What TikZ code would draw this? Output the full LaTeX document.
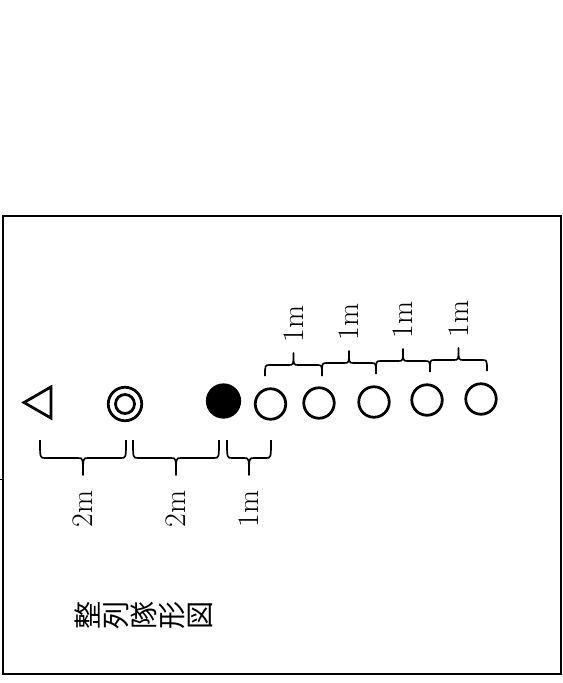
\documentclass[tikz,border=0pt]{standalone}
\usepackage{fontspec}
\newfontfamily\jpfont{Noto Sans CJK JP}
\usetikzlibrary{shapes.geometric}

\begin{document}
\begin{tikzpicture}[
  x=0.02cm, y=-0.02cm,
  frame/.style={draw, line width=0.045cm},
  sym/.style={draw, line width=0.055cm, inner sep=0pt},
  member/.style={sym, circle, minimum size=0.61cm},
  leader/.style={sym, circle, fill=black, minimum size=0.65cm},
  dimbrace/.style={line width=0.95pt, line join=round},
  dimlabel/.style={font=\fontsize{17}{20}\selectfont, rotate=90, inner sep=0pt},
  kanji/.style={font=\jpfont\fontsize{16}{19}\selectfont, rotate=90, inner sep=0pt},
]
  \useasboundingbox (0,0) rectangle (563,683);
  \draw[frame] (3,216) rectangle (561,674);
  \draw[line width=0.5pt] (0,479) -- (3,479);

  % formation, left to right
  \node[sym, regular polygon, regular polygon sides=3, minimum size=0.72cm, rotate=90] (tri) at (42,402.5) {};
  \node[sym, circle, minimum size=0.67cm] (dbl) at (125,404) {};
  \draw[line width=0.055cm] (dbl.center) circle[radius=0.19cm];
  \node[leader] (lead) at (223.5,401) {};
  \node[member] (m1) at (270.5,404) {};
  \node[member] (m2) at (319,403) {};
  \node[member] (m3) at (374,402) {};
  \node[member] (m4) at (427,400) {};
  \node[member] (m5) at (481,399) {};

  % spacing below
  \foreach \xa/\xb/\len [count=\i] in {40/126/2m, 133/219/2m, 227/271/1m}{
    \pgfmathsetmacro{\xm}{(\xa+\xb)/2}
    \draw[dimbrace] (\xa,440) .. controls (\xa,458) .. (\xa+5,458) -- (\xm-5,458)
      .. controls (\xm,458) .. (\xm,475) .. controls (\xm,458) .. (\xm+5,458)
      -- (\xb-5,458) .. controls (\xb,458) .. (\xb,440);
    \node[dimlabel, anchor=east] (lo\i) at (\xm,490) {\len};
  }

  % spacing above
  \foreach \xa/\xb/\yl [count=\i] in {265/322/365, 322/376/363, 376/430/361, 430/487/360}{
    \pgfmathsetmacro{\xm}{(\xa+\xb)/2}
    \draw[dimbrace] (\xa,\yl+11) .. controls (\xa,\yl) .. (\xa+5,\yl) -- (\xm-5,\yl)
      .. controls (\xm,\yl) .. (\xm,\yl-12) .. controls (\xm,\yl) .. (\xm+5,\yl)
      -- (\xb-5,\yl) .. controls (\xb,\yl) .. (\xb,\yl+11);
    \node[dimlabel, anchor=west] (up\i) at (\xm,\yl-22) {1m};
  }

  % caption
  \foreach \ch [count=\i] in {整,列,隊,形,図}
    \node[kanji] (k\i) at (60+28*\i,615) {\ch};
\end{tikzpicture}
\end{document}
